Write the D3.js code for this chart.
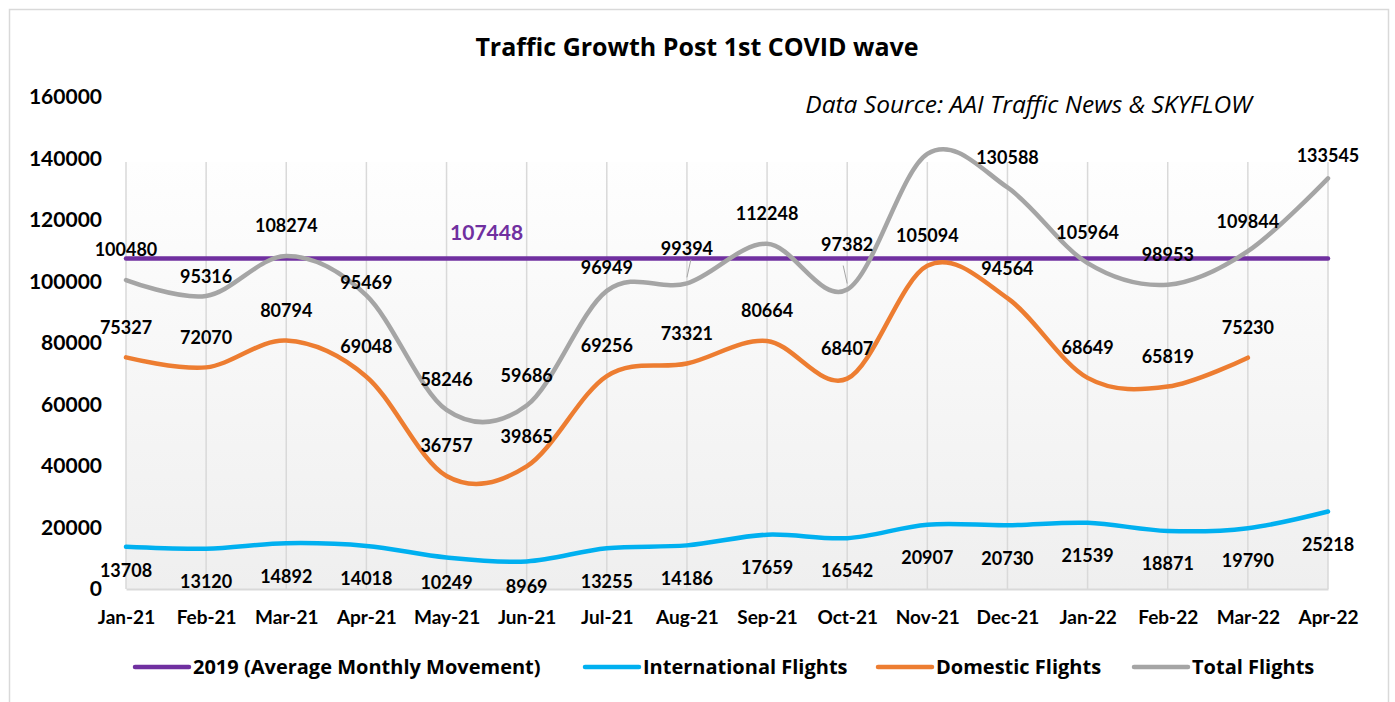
<!DOCTYPE html>
<html>
<head>
<meta charset="utf-8">
<script src="https://cdn.jsdelivr.net/npm/d3@7"></script>
<style>
  body { margin: 0; background: #fff; }
  svg { display: block; font-family: Lato, "Open Sans", sans-serif; }
</style>
</head>
<body>
<svg id="chart" width="1395" height="702"></svg>
<script>
const months = ["Jan-21", "Feb-21", "Mar-21", "Apr-21", "May-21", "Jun-21", "Jul-21", "Aug-21",
  "Sep-21", "Oct-21", "Nov-21", "Dec-21", "Jan-22", "Feb-22", "Mar-22", "Apr-22"]
const avg2019 = 107448
const international = [13708, 13120, 14892, 14018, 10249, 8969, 13255, 14186,
  17659, 16542, 20907, 20730, 21539, 18871, 19790, 25218]
const domestic = [75327, 72070, 80794, 69048, 36757, 39865, 69256, 73321,
  80664, 68407, 105094, 94564, 68649, 65819, 75230, null]
// Nov-21 total has no label in the source
const total = [100480, 95316, 108274, 95469, 58246, 59686, 96949, 99394,
  112248, 97382, 141500, 130588, 105964, 98953, 109844, 133545]
const totalLabelShown = total.map((d, i) => i !== 10)
const yTicks = [0, 20000, 40000, 60000, 80000, 100000, 120000, 140000, 160000]

const svg = d3.select("#chart")

const dims = { left: 126, right: 1328, top: 97, bottom: 589, plotTop: 162 }

const x = d3.scalePoint().domain(months).range([dims.left, dims.right])
const y = d3.scaleLinear().domain([0, 160000]).range([dims.bottom, dims.top])

// outer chart border
svg.append("rect")
  .attr("x", 9.5).attr("y", 9.5)
  .attr("width", 1379).attr("height", 720)
  .attr("fill", "#fff").attr("stroke", "#d9d9d9").attr("stroke-width", 1.5)

// plot area gradient
const grad = svg.append("defs").append("linearGradient")
  .attr("id", "plotGrad").attr("x1", 0).attr("y1", 0).attr("x2", 0).attr("y2", 1)
grad.append("stop").attr("offset", "0%").attr("stop-color", "#fefefe")
grad.append("stop").attr("offset", "100%").attr("stop-color", "#efefef")

svg.append("rect")
  .attr("x", dims.left).attr("y", dims.plotTop)
  .attr("width", dims.right - dims.left).attr("height", dims.bottom - dims.plotTop)
  .attr("fill", "url(#plotGrad)")

// vertical gridlines
svg.append("g").selectAll("line").data(months).join("line")
  .attr("x1", d => x(d)).attr("x2", d => x(d))
  .attr("y1", dims.plotTop).attr("y2", dims.bottom)
  .attr("stroke", "#d9d9d9").attr("stroke-width", 1.5)

// axes
const xAxis = svg.append("g")
  .attr("transform", `translate(0,${dims.bottom})`)
  .call(d3.axisBottom(x).tickSize(0).tickPadding(22))
xAxis.select(".domain").attr("stroke", "#d9d9d9").attr("stroke-width", 2)
xAxis.selectAll("text")
  .attr("font-family", "Lato").attr("font-weight", "bold")
  .attr("font-size", 19).attr("fill", "#000")

const yAxis = svg.append("g")
  .attr("transform", `translate(${dims.left},0)`)
  .call(d3.axisLeft(y).tickValues(yTicks).tickFormat(d3.format("d")).tickSize(0).tickPadding(24))
yAxis.select(".domain").remove()
yAxis.selectAll("text")
  .attr("font-family", "Lato").attr("font-weight", "bold")
  .attr("font-size", 21).attr("fill", "#000")

// title and source
svg.append("text")
  .attr("x", 697).attr("y", 56).attr("text-anchor", "middle")
  .attr("font-family", "Open Sans")
  .attr("font-weight", "bold").attr("font-size", 25).attr("fill", "#000")
  .text("Traffic Growth Post 1st COVID wave")
svg.append("text")
  .attr("x", 1252).attr("y", 113).attr("text-anchor", "end")
  .attr("font-family", "Open Sans")
  .attr("font-style", "italic").attr("font-size", 24.5).attr("fill", "#000")
  .text("Data Source: AAI Traffic News & SKYFLOW")

// lines
const line = d3.line()
  .defined(d => d != null)
  .x((d, i) => x(months[i]))
  .y(d => y(d))

const series = [
  { name: "2019 (Average Monthly Movement)", values: months.map(() => avg2019), color: "#7030a0", curve: d3.curveLinear },
  { name: "International Flights", values: international, color: "#00b0f0" },
  { name: "Domestic Flights", values: domestic, color: "#ed7d31" },
  { name: "Total Flights", values: total, color: "#a5a5a5" }
]

series.forEach(s => {
  line.curve(s.curve || d3.curveCardinal.tension(0))
  svg.append("path")
    .datum(s.values)
    .attr("d", line)
    .attr("fill", "none")
    .attr("stroke", s.color)
    .attr("stroke-width", 4.5)
    .attr("stroke-linecap", "round")
})

// data labels
const labelG = svg.append("g")
  .attr("font-weight", "bold").attr("font-size", 18).attr("fill", "#000")
  .attr("text-anchor", "middle")

const addLabels = (values, dyFn, show) => {
  values.forEach((v, i) => {
    if (v == null || (show && !show[i])) return
    labelG.append("text")
      .attr("x", x(months[i]))
      .attr("y", dyFn(y(v), i))
      .attr("dy", "0.35em")
      .text(v)
  })
}

// nudges for labels that were moved in the source chart
const totalNudge = { 1: 11, 3: 17, 6: 7, 7: -5, 9: -15, 15: 7 }
const intlNudge = { 0: -9, 4: -8, 5: -8 }

addLabels(domestic, py => py - 30)
addLabels(total, (py, i) => py - 30 + (totalNudge[i] || 0), totalLabelShown)
addLabels(international, (py, i) => py + 33 + (intlNudge[i] || 0))

// leader lines for moved total labels
;[7, 9].forEach(i => {
  const py = y(total[i])
  svg.append("line")
    .attr("x1", x(months[i]) + (i === 7 ? 4 : -4)).attr("y1", py - 24)
    .attr("x2", x(months[i])).attr("y2", py - 6)
    .attr("stroke", "#a5a5a5").attr("stroke-width", 1)
})

// 2019 average label
svg.append("text")
  .attr("x", (x(months[4]) + x(months[5])) / 2)
  .attr("y", y(avg2019) - 26)
  .attr("dy", "0.35em")
  .attr("text-anchor", "middle")
  .attr("font-weight", "bold").attr("font-size", 21).attr("fill", "#7030a0")
  .text(avg2019)

// legend
const legendX = [135, 585, 878, 1134]
const legend = svg.append("g")
series.forEach((s, i) => {
  const g = legend.append("g").attr("transform", `translate(${legendX[i]},667)`)
  g.append("line")
    .attr("x1", 0).attr("x2", 54)
    .attr("stroke", s.color).attr("stroke-width", 4.5).attr("stroke-linecap", "round")
  g.append("text")
    .attr("x", 58).attr("dy", "0.35em")
    .attr("font-family", "Open Sans")
    .attr("font-weight", "bold").attr("font-size", 20).attr("fill", "#000")
    .text(s.name)
})
</script>
</body>
</html>
